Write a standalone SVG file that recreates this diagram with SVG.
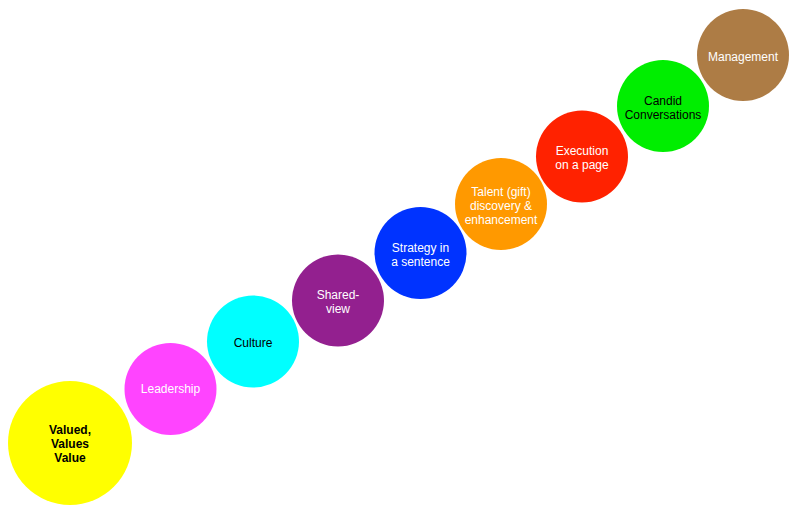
<svg xmlns="http://www.w3.org/2000/svg" width="797" height="512" viewBox="0 0 797 512">
<style>
text{font-family:"Liberation Sans",Arial,Helvetica,sans-serif;font-size:12px;text-anchor:middle}
.w{fill:#ffffff}
.k{fill:#000000}
.b{font-weight:bold}
</style>
<rect width="797" height="512" fill="#ffffff"/>
<g id="connectors"/>
<g id="n1"><circle cx="70" cy="443" r="62" fill="#ffff00"/>
<text class="k b" x="70" y="434">Valued,</text><text class="k b" x="70" y="448">Values</text><text class="k b" x="70" y="462">Value</text></g>
<g id="n2"><circle cx="170.5" cy="389" r="46" fill="#ff44ff"/>
<text class="w" x="170.5" y="393">Leadership</text></g>
<g id="n3"><circle cx="253" cy="341.5" r="46" fill="#00ffff"/>
<text class="k" x="253" y="347">Culture</text></g>
<g id="n4"><circle cx="338" cy="300.5" r="46" fill="#93208f"/>
<text class="w" x="338" y="299">Shared-</text><text class="w" x="338" y="313">view</text></g>
<g id="n5"><circle cx="420.5" cy="253" r="46" fill="#0033ff"/>
<text class="w" x="420.5" y="252">Strategy in</text><text class="w" x="420.5" y="266">a sentence</text></g>
<g id="n6"><circle cx="501" cy="204" r="46" fill="#ff9900"/>
<text class="w" x="501" y="196">Talent (gift)</text><text class="w" x="501" y="210">discovery &amp;</text><text class="w" x="501" y="224">enhancement</text></g>
<g id="n7"><circle cx="582" cy="156.5" r="46" fill="#ff2200"/>
<text class="w" x="582" y="155">Execution</text><text class="w" x="582" y="169">on a page</text></g>
<g id="n8"><circle cx="663" cy="106" r="46" fill="#00ee00"/>
<text class="k" x="663" y="105">Candid</text><text class="k" x="663" y="119">Conversations</text></g>
<g id="n9"><circle cx="743" cy="55" r="46" fill="#ad7c45"/>
<text class="w" x="743" y="61">Management</text></g>
</svg>
